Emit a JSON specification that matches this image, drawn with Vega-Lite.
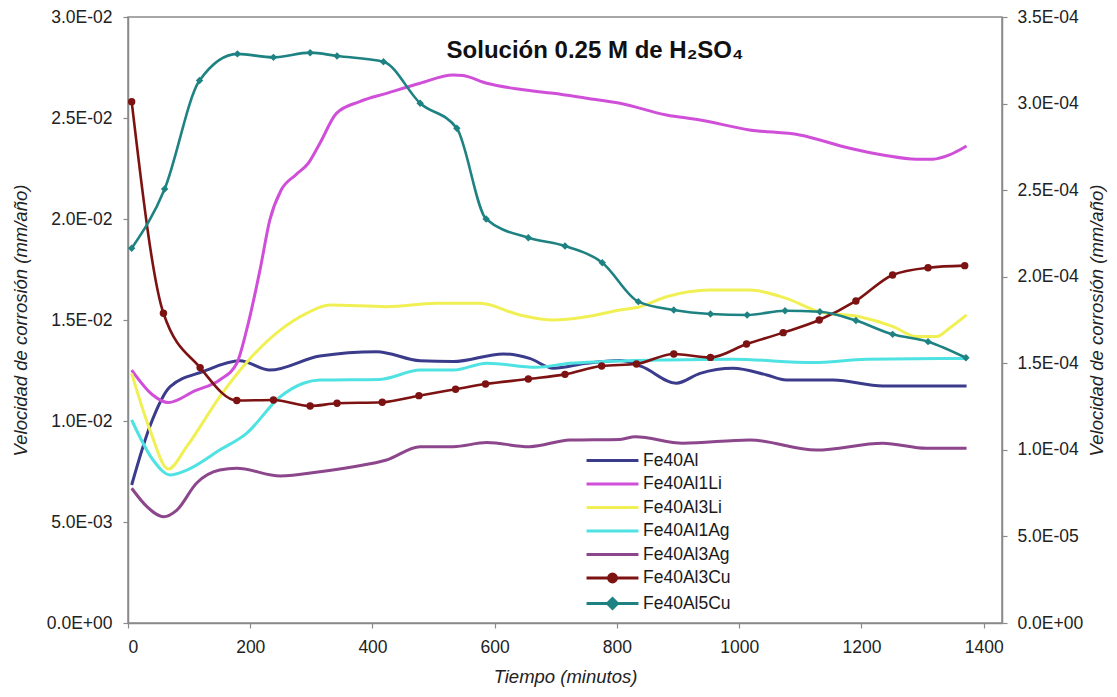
{
  "$schema": "https://vega.github.io/schema/vega-lite/v6.json",
  "width": 874,
  "height": 606,
  "autosize": "none",
  "padding": {"left": 128, "top": 17, "right": 115, "bottom": 74},
  "background": "white",
  "config": {
    "font": "Liberation Sans",
    "view": {"stroke": "#8a8a8a", "strokeWidth": 1.5},
    "axis": {
      "domainColor": "#8a8a8a", "domainWidth": 1.5, "tickColor": "#8a8a8a", "tickWidth": 1.2, "tickSize": 5,
      "labelFont": "Liberation Sans", "labelFontSize": 17.5, "labelColor": "#222222",
      "titleFont": "Liberation Sans", "titleFontSize": 18.5, "titleFontStyle": "italic", "titleFontWeight": "normal", "titleColor": "#222222",
      "grid": false
    }
  },
  "title": {
    "text": "Solución 0.25 M de H₂SO₄",
    "font": "Liberation Sans", "fontSize": 24, "fontWeight": "bold", "color": "#111111",
    "anchor": "middle", "baseline": "middle", "dx": 30, "dy": 71
  },
  "datasets": {
    "izq": [
      {"t": 6, "v": 0.00683, "serie": "Fe40Al"}, {"t": 36, "v": 0.00975, "serie": "Fe40Al"}, {"t": 69, "v": 0.0117, "serie": "Fe40Al"},
      {"t": 123, "v": 0.01245, "serie": "Fe40Al"}, {"t": 183, "v": 0.01298, "serie": "Fe40Al"}, {"t": 232, "v": 0.01252, "serie": "Fe40Al"},
      {"t": 314, "v": 0.01322, "serie": "Fe40Al"}, {"t": 407, "v": 0.01343, "serie": "Fe40Al"}, {"t": 478, "v": 0.01298, "serie": "Fe40Al"},
      {"t": 532, "v": 0.01294, "serie": "Fe40Al"}, {"t": 614, "v": 0.01332, "serie": "Fe40Al"}, {"t": 657, "v": 0.0131, "serie": "Fe40Al"},
      {"t": 696, "v": 0.01261, "serie": "Fe40Al"}, {"t": 750, "v": 0.01286, "serie": "Fe40Al"}, {"t": 805, "v": 0.01299, "serie": "Fe40Al"},
      {"t": 840, "v": 0.0127, "serie": "Fe40Al"}, {"t": 897, "v": 0.01187, "serie": "Fe40Al"}, {"t": 936, "v": 0.01236, "serie": "Fe40Al"},
      {"t": 990, "v": 0.01261, "serie": "Fe40Al"}, {"t": 1045, "v": 0.01228, "serie": "Fe40Al"}, {"t": 1077, "v": 0.01203, "serie": "Fe40Al"},
      {"t": 1154, "v": 0.01203, "serie": "Fe40Al"}, {"t": 1235, "v": 0.01173, "serie": "Fe40Al"}, {"t": 1372, "v": 0.01173, "serie": "Fe40Al"},

      {"t": 6, "v": 0.01252, "serie": "Fe40Al1Li"}, {"t": 40, "v": 0.0113, "serie": "Fe40Al1Li"}, {"t": 66, "v": 0.01091, "serie": "Fe40Al1Li"},
      {"t": 110, "v": 0.0115, "serie": "Fe40Al1Li"}, {"t": 150, "v": 0.01203, "serie": "Fe40Al1Li"}, {"t": 178, "v": 0.01286, "serie": "Fe40Al1Li"},
      {"t": 194, "v": 0.0145, "serie": "Fe40Al1Li"}, {"t": 216, "v": 0.01748, "serie": "Fe40Al1Li"}, {"t": 232, "v": 0.01995, "serie": "Fe40Al1Li"},
      {"t": 250, "v": 0.0214, "serie": "Fe40Al1Li"}, {"t": 275, "v": 0.0222, "serie": "Fe40Al1Li"}, {"t": 295, "v": 0.02276, "serie": "Fe40Al1Li"},
      {"t": 314, "v": 0.02375, "serie": "Fe40Al1Li"}, {"t": 341, "v": 0.02523, "serie": "Fe40Al1Li"}, {"t": 379, "v": 0.02581, "serie": "Fe40Al1Li"},
      {"t": 423, "v": 0.02622, "serie": "Fe40Al1Li"}, {"t": 478, "v": 0.02672, "serie": "Fe40Al1Li"}, {"t": 532, "v": 0.02713, "serie": "Fe40Al1Li"},
      {"t": 548, "v": 0.0271, "serie": "Fe40Al1Li"}, {"t": 587, "v": 0.02672, "serie": "Fe40Al1Li"}, {"t": 641, "v": 0.02642, "serie": "Fe40Al1Li"},
      {"t": 696, "v": 0.02622, "serie": "Fe40Al1Li"}, {"t": 750, "v": 0.02598, "serie": "Fe40Al1Li"}, {"t": 805, "v": 0.02573, "serie": "Fe40Al1Li"},
      {"t": 881, "v": 0.02515, "serie": "Fe40Al1Li"}, {"t": 936, "v": 0.0249, "serie": "Fe40Al1Li"}, {"t": 1017, "v": 0.02441, "serie": "Fe40Al1Li"},
      {"t": 1099, "v": 0.02416, "serie": "Fe40Al1Li"}, {"t": 1181, "v": 0.0235, "serie": "Fe40Al1Li"}, {"t": 1235, "v": 0.02317, "serie": "Fe40Al1Li"},
      {"t": 1290, "v": 0.02296, "serie": "Fe40Al1Li"}, {"t": 1317, "v": 0.02296, "serie": "Fe40Al1Li"}, {"t": 1344, "v": 0.02317, "serie": "Fe40Al1Li"},
      {"t": 1372, "v": 0.02361, "serie": "Fe40Al1Li"},

      {"t": 6, "v": 0.01236, "serie": "Fe40Al3Li"}, {"t": 36, "v": 0.00955, "serie": "Fe40Al3Li"}, {"t": 66, "v": 0.00762, "serie": "Fe40Al3Li"},
      {"t": 96, "v": 0.00873, "serie": "Fe40Al3Li"}, {"t": 150, "v": 0.0112, "serie": "Fe40Al3Li"}, {"t": 194, "v": 0.0129, "serie": "Fe40Al3Li"},
      {"t": 249, "v": 0.0145, "serie": "Fe40Al3Li"}, {"t": 292, "v": 0.01533, "serie": "Fe40Al3Li"}, {"t": 330, "v": 0.01574, "serie": "Fe40Al3Li"},
      {"t": 423, "v": 0.01566, "serie": "Fe40Al3Li"}, {"t": 505, "v": 0.01583, "serie": "Fe40Al3Li"}, {"t": 576, "v": 0.01583, "serie": "Fe40Al3Li"},
      {"t": 641, "v": 0.01525, "serie": "Fe40Al3Li"}, {"t": 696, "v": 0.015, "serie": "Fe40Al3Li"}, {"t": 750, "v": 0.01516, "serie": "Fe40Al3Li"},
      {"t": 805, "v": 0.0155, "serie": "Fe40Al3Li"}, {"t": 835, "v": 0.01563, "serie": "Fe40Al3Li"}, {"t": 881, "v": 0.01615, "serie": "Fe40Al3Li"},
      {"t": 952, "v": 0.01648, "serie": "Fe40Al3Li"}, {"t": 1017, "v": 0.01648, "serie": "Fe40Al3Li"}, {"t": 1077, "v": 0.01607, "serie": "Fe40Al3Li"},
      {"t": 1132, "v": 0.0154, "serie": "Fe40Al3Li"}, {"t": 1197, "v": 0.01516, "serie": "Fe40Al3Li"}, {"t": 1252, "v": 0.01467, "serie": "Fe40Al3Li"},
      {"t": 1290, "v": 0.01418, "serie": "Fe40Al3Li"}, {"t": 1323, "v": 0.01418, "serie": "Fe40Al3Li"}, {"t": 1344, "v": 0.01459, "serie": "Fe40Al3Li"},
      {"t": 1372, "v": 0.01525, "serie": "Fe40Al3Li"},

      {"t": 6, "v": 0.01005, "serie": "Fe40Al1Ag"}, {"t": 41, "v": 0.00807, "serie": "Fe40Al1Ag"}, {"t": 69, "v": 0.00733, "serie": "Fe40Al1Ag"},
      {"t": 96, "v": 0.00757, "serie": "Fe40Al1Ag"}, {"t": 150, "v": 0.00856, "serie": "Fe40Al1Ag"}, {"t": 194, "v": 0.00939, "serie": "Fe40Al1Ag"},
      {"t": 249, "v": 0.0112, "serie": "Fe40Al1Ag"}, {"t": 287, "v": 0.01187, "serie": "Fe40Al1Ag"}, {"t": 314, "v": 0.01203, "serie": "Fe40Al1Ag"},
      {"t": 412, "v": 0.01206, "serie": "Fe40Al1Ag"}, {"t": 478, "v": 0.01252, "serie": "Fe40Al1Ag"}, {"t": 532, "v": 0.01252, "serie": "Fe40Al1Ag"},
      {"t": 587, "v": 0.01286, "serie": "Fe40Al1Ag"}, {"t": 668, "v": 0.01266, "serie": "Fe40Al1Ag"}, {"t": 723, "v": 0.01286, "serie": "Fe40Al1Ag"},
      {"t": 777, "v": 0.01294, "serie": "Fe40Al1Ag"}, {"t": 881, "v": 0.01302, "serie": "Fe40Al1Ag"}, {"t": 990, "v": 0.01306, "serie": "Fe40Al1Ag"},
      {"t": 1121, "v": 0.01289, "serie": "Fe40Al1Ag"}, {"t": 1208, "v": 0.01306, "serie": "Fe40Al1Ag"}, {"t": 1372, "v": 0.0131, "serie": "Fe40Al1Ag"},

      {"t": 6, "v": 0.00667, "serie": "Fe40Al3Ag"}, {"t": 31, "v": 0.00576, "serie": "Fe40Al3Ag"}, {"t": 58, "v": 0.00526, "serie": "Fe40Al3Ag"},
      {"t": 80, "v": 0.00559, "serie": "Fe40Al3Ag"}, {"t": 112, "v": 0.00692, "serie": "Fe40Al3Ag"}, {"t": 150, "v": 0.00757, "serie": "Fe40Al3Ag"},
      {"t": 178, "v": 0.00766, "serie": "Fe40Al3Ag"}, {"t": 249, "v": 0.00728, "serie": "Fe40Al3Ag"}, {"t": 314, "v": 0.00749, "serie": "Fe40Al3Ag"},
      {"t": 369, "v": 0.00774, "serie": "Fe40Al3Ag"}, {"t": 423, "v": 0.00807, "serie": "Fe40Al3Ag"}, {"t": 478, "v": 0.00873, "serie": "Fe40Al3Ag"},
      {"t": 532, "v": 0.00873, "serie": "Fe40Al3Ag"}, {"t": 587, "v": 0.00893, "serie": "Fe40Al3Ag"}, {"t": 657, "v": 0.00873, "serie": "Fe40Al3Ag"},
      {"t": 723, "v": 0.00906, "serie": "Fe40Al3Ag"}, {"t": 805, "v": 0.00909, "serie": "Fe40Al3Ag"}, {"t": 830, "v": 0.00922, "serie": "Fe40Al3Ag"},
      {"t": 908, "v": 0.0089, "serie": "Fe40Al3Ag"}, {"t": 1017, "v": 0.00906, "serie": "Fe40Al3Ag"}, {"t": 1126, "v": 0.00856, "serie": "Fe40Al3Ag"},
      {"t": 1235, "v": 0.0089, "serie": "Fe40Al3Ag"}, {"t": 1306, "v": 0.00865, "serie": "Fe40Al3Ag"}, {"t": 1372, "v": 0.00865, "serie": "Fe40Al3Ag"}
    ],
    "der": [
      {"t": 6, "v": 0.0003011, "serie": "Fe40Al3Cu"}, {"t": 58, "v": 0.0001789, "serie": "Fe40Al3Cu"}, {"t": 118, "v": 0.0001475, "serie": "Fe40Al3Cu"},
      {"t": 178, "v": 0.0001285, "serie": "Fe40Al3Cu"}, {"t": 238, "v": 0.0001288, "serie": "Fe40Al3Cu"}, {"t": 298, "v": 0.0001253, "serie": "Fe40Al3Cu"},
      {"t": 342, "v": 0.0001269, "serie": "Fe40Al3Cu"}, {"t": 416, "v": 0.0001275, "serie": "Fe40Al3Cu"}, {"t": 476, "v": 0.0001313, "serie": "Fe40Al3Cu"},
      {"t": 536, "v": 0.000135, "serie": "Fe40Al3Cu"}, {"t": 585, "v": 0.000138, "serie": "Fe40Al3Cu"}, {"t": 655, "v": 0.0001409, "serie": "Fe40Al3Cu"},
      {"t": 715, "v": 0.0001436, "serie": "Fe40Al3Cu"}, {"t": 775, "v": 0.0001484, "serie": "Fe40Al3Cu"}, {"t": 832, "v": 0.0001496, "serie": "Fe40Al3Cu"},
      {"t": 893, "v": 0.0001554, "serie": "Fe40Al3Cu"}, {"t": 953, "v": 0.0001534, "serie": "Fe40Al3Cu"}, {"t": 1012, "v": 0.0001611, "serie": "Fe40Al3Cu"},
      {"t": 1072, "v": 0.0001677, "serie": "Fe40Al3Cu"}, {"t": 1131, "v": 0.000175, "serie": "Fe40Al3Cu"}, {"t": 1191, "v": 0.000186, "serie": "Fe40Al3Cu"},
      {"t": 1251, "v": 0.000201, "serie": "Fe40Al3Cu"}, {"t": 1309, "v": 0.0002052, "serie": "Fe40Al3Cu"}, {"t": 1369, "v": 0.0002064, "serie": "Fe40Al3Cu"},

      {"t": 6, "v": 0.0002164, "serie": "Fe40Al5Cu"}, {"t": 60, "v": 0.0002507, "serie": "Fe40Al5Cu"}, {"t": 117, "v": 0.0003133, "serie": "Fe40Al5Cu"},
      {"t": 179, "v": 0.0003287, "serie": "Fe40Al5Cu"}, {"t": 238, "v": 0.0003267, "serie": "Fe40Al5Cu"}, {"t": 298, "v": 0.0003294, "serie": "Fe40Al5Cu"},
      {"t": 342, "v": 0.0003275, "serie": "Fe40Al5Cu"}, {"t": 418, "v": 0.0003242, "serie": "Fe40Al5Cu"}, {"t": 478, "v": 0.0003002, "serie": "Fe40Al5Cu"},
      {"t": 538, "v": 0.0002857, "serie": "Fe40Al5Cu"}, {"t": 586, "v": 0.0002333, "serie": "Fe40Al5Cu"}, {"t": 655, "v": 0.0002225, "serie": "Fe40Al5Cu"},
      {"t": 715, "v": 0.0002177, "serie": "Fe40Al5Cu"}, {"t": 776, "v": 0.0002081, "serie": "Fe40Al5Cu"}, {"t": 835, "v": 0.0001856, "serie": "Fe40Al5Cu"},
      {"t": 893, "v": 0.0001808, "serie": "Fe40Al5Cu"}, {"t": 953, "v": 0.0001785, "serie": "Fe40Al5Cu"}, {"t": 1013, "v": 0.0001779, "serie": "Fe40Al5Cu"},
      {"t": 1075, "v": 0.0001803, "serie": "Fe40Al5Cu"}, {"t": 1132, "v": 0.0001798, "serie": "Fe40Al5Cu"}, {"t": 1191, "v": 0.0001747, "serie": "Fe40Al5Cu"},
      {"t": 1251, "v": 0.0001667, "serie": "Fe40Al5Cu"}, {"t": 1309, "v": 0.0001625, "serie": "Fe40Al5Cu"}, {"t": 1371, "v": 0.0001532, "serie": "Fe40Al5Cu"}
    ]
  },
  "layer": [
    {
      "data": {"name": "izq"},
      "mark": {"type": "line", "interpolate": "monotone", "strokeWidth": 3},
      "encoding": {
        "x": {
          "field": "t", "type": "quantitative",
          "scale": {"domain": [0, 1430], "nice": false, "zero": true},
          "axis": {"values": [0, 200, 400, 600, 800, 1000, 1200, 1400], "format": "d", "title": "Tiempo (minutos)", "labelPadding": 10, "titlePadding": 12}
        },
        "y": {
          "field": "v", "type": "quantitative",
          "scale": {"domain": [0, 0.03], "nice": false},
          "axis": {
            "orient": "left",
            "values": [0, 0.005, 0.01, 0.015, 0.02, 0.025, 0.03],
            "labelExpr": "replace(replace(upper(format(datum.value, '.1e')), 'E-', 'E-0'), 'E+', 'E+0')",
            "labelPadding": 11,
            "title": "Velocidad de corrosión (mm/año)",
            "titleX": -98
          }
        },
        "color": {
          "field": "serie", "type": "nominal",
          "scale": {
            "domain": ["Fe40Al", "Fe40Al1Li", "Fe40Al3Li", "Fe40Al1Ag", "Fe40Al3Ag", "Fe40Al3Cu", "Fe40Al5Cu"],
            "range": ["#3b3b8c", "#d04fd8", "#f0f055", "#4fe2e2", "#8c468c", "#7d1212", "#1e8282"]
          },
          "legend": {
            "title": null,
            "orient": "none",
            "legendX": 472,
            "legendY": 431,
            "padding": 0,
            "symbolSize": 484,
            "symbolStrokeWidth": 3,
            "rowPadding": 2.5,
            "labelOffset": 18,
            "labelFont": "Liberation Sans",
            "labelFontSize": 17.5,
            "labelColor": "#1a1a1a",
            "labelLimit": 300,
            "encode": {
              "symbols": {
                "update": {
                  "shape": {"signal": "datum.value === 'Fe40Al3Cu' ? 'M-2.36,0L2.36,0M0.36,0A0.36,0.36 0 1,1 -0.36,0A0.36,0.36 0 1,1 0.36,0Z' : datum.value === 'Fe40Al5Cu' ? 'M-2.36,0L2.36,0M0,-0.45L0.45,0L0,0.45L-0.45,0Z' : 'M-2.36,0L2.36,0'"},
                  "stroke": {"scale": "color", "field": "value"},
                  "fill": {"scale": "color", "field": "value"},
                  "strokeWidth": {"value": 3},
                  "opacity": {"value": 1}
                }
              }
            }
          }
        }
      }
    },
    {
      "data": {"name": "der"},
      "encoding": {
        "x": {"field": "t", "type": "quantitative", "scale": {"domain": [0, 1430], "nice": false, "zero": true}},
        "y": {
          "field": "v", "type": "quantitative",
          "scale": {"domain": [0, 0.00035], "nice": false},
          "axis": {
            "orient": "right",
            "values": [0, 0.00005, 0.0001, 0.00015, 0.0002, 0.00025, 0.0003, 0.00035],
            "labelExpr": "replace(replace(upper(format(datum.value, '.1e')), 'E-', 'E-0'), 'E+', 'E+0')",
            "labelPadding": 10,
            "title": "Velocidad de corrosión (mm/año)",
            "titleAngle": -90,
            "titleX": 104
          }
        },
        "color": {"field": "serie", "type": "nominal"}
      },
      "layer": [
        {"mark": {"type": "line", "interpolate": "monotone", "strokeWidth": 2.6}},
        {
          "mark": {"type": "point", "filled": true, "opacity": 1, "size": 55},
          "encoding": {
            "shape": {
              "field": "serie", "type": "nominal",
              "scale": {"domain": ["Fe40Al3Cu", "Fe40Al5Cu"], "range": ["circle", "diamond"]},
              "legend": null
            }
          }
        }
      ]
    }
  ],
  "resolve": {"scale": {"y": "independent"}}
}
